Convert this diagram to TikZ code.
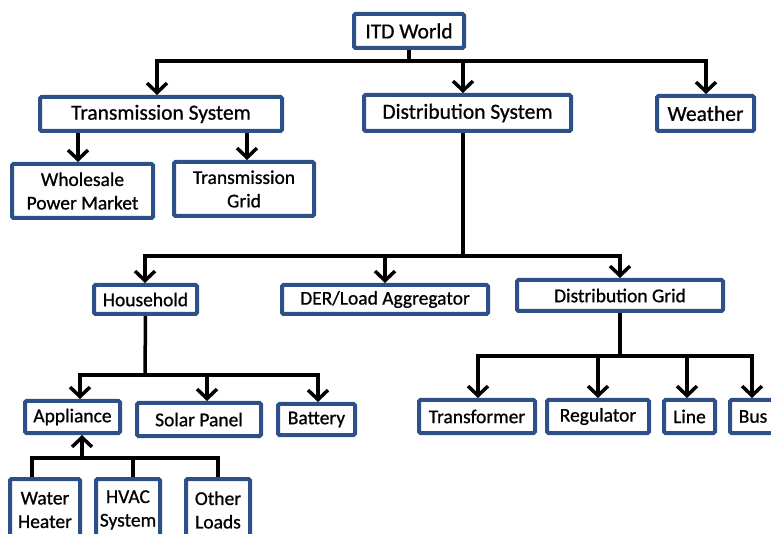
\documentclass[tikz,border=0pt]{standalone}
\usepackage{fontspec}
\setmainfont{Carlito}[UprightFeatures={FakeBold=0.8}]
\usepackage{tikz}
\usetikzlibrary{arrows.meta}
\definecolor{boxblue}{RGB}{44,80,135}

\begin{document}
\begin{tikzpicture}[x=1pt,y=-1pt,
  box/.style={draw=boxblue,line width=4pt,rounded corners=1.5pt,fill=white,inner sep=0pt,align=center,font=\fontsize{19.5}{23.5}\selectfont},
  bigbox/.style={box,font=\fontsize{21.5}{25}\selectfont},
  link/.style={black,line width=3.5pt},
  arr/.style={link,-{Straight Barb[length=9.5pt,width=20pt]}}]
  \useasboundingbox (0,0) rectangle (771,534);
  \clip (0,0) rectangle (771,534);

    %Top level
    \node[bigbox,minimum width=110,minimum height=34] (itd) at (409,31) {ITD World};
    \node[bigbox,minimum width=242,minimum height=34] (tsys) at (161,114) {Transmission System};
    \node[bigbox,minimum width=207,minimum height=36] (dsys) at (467.5,113) {Distribution System};
    \node[bigbox,minimum width=97,minimum height=35] (weather) at (705.5,113.5) {Weather};

    %Transmission side
    \node[box,minimum width=141,minimum height=54] (wpm) at (82.5,191) {Wholesale\\Power Market};
    \node[box,minimum width=140,minimum height=54] (tgrid) at (244,189) {Transmission\\Grid};

    %Distribution side
    \node[box,minimum width=103,minimum height=29] (house) at (145.5,299.5) {Household};
    \node[box,minimum width=206,minimum height=29] (der) at (385,299.5) {DER/Load Aggregator};
    \node[box,minimum width=206,minimum height=31] (dgrid) at (620,295.5) {Distribution Grid};

    %Household
    \node[box,minimum width=95,minimum height=32] (appl) at (72.5,417) {Appliance};
    \node[box,minimum width=124,minimum height=33] (solar) at (199,419.5) {Solar Panel};
    \node[box,minimum width=77,minimum height=31] (batt) at (316.5,419.5) {Battery};
    \node[box,minimum width=70,minimum height=62] (water) at (45,510) {Water\\Heater};
    \node[box,minimum width=64,minimum height=62] (hvac) at (128,510) {HVAC\\System};
    \node[box,minimum width=64,minimum height=62] (other) at (218,510) {Other\\Loads};

    %Grid
    \node[box,minimum width=116,minimum height=33] (trans) at (477,416.5) {Transformer};
    \node[box,minimum width=102,minimum height=33] (reg) at (598,416.5) {Regulator};
    \node[box,minimum width=51,minimum height=33] (line) at (689.5,416.5) {Line};
    \node[box,minimum width=46,minimum height=33] (bus) at (753,416.5) {Bus};

    %Bars
    \coordinate (t0) at (409,61);
    \coordinate (t1) at (157,61);
    \coordinate (t2) at (706,61);
    \coordinate (t3) at (463,61);
    \coordinate (s1) at (78,133);
    \coordinate (s2) at (247,133);
    \coordinate (d0) at (463,256);
    \coordinate (d1) at (145,256);
    \coordinate (d2) at (620,256);
    \coordinate (d3) at (385,256);
    \coordinate (h0) at (145,375);
    \coordinate (h1) at (80,375);
    \coordinate (h2) at (318,375);
    \coordinate (h3) at (207,375);
    \coordinate (a0) at (82,458);
    \coordinate (a1) at (32,458);
    \coordinate (a2) at (218,458);
    \coordinate (a3) at (133,458);
    \coordinate (g0) at (620,356);
    \coordinate (g1) at (478,356);
    \coordinate (g2) at (752,356);
    \coordinate (g3) at (598,356);
    \coordinate (g4) at (687,356);

    \draw[link] (itd.south) -- (t0);
    \draw[arr] (t0) -- (t1) -- (t1 |- tsys.north);
    \draw[arr] (t0) -- (t2) -- (t2 |- weather.north);
    \draw[arr] (t3) -- (t3 |- dsys.north);

    \draw[arr] (s1) -- (s1 |- wpm.north);
    \draw[arr] (s2) -- (s2 |- tgrid.north);

    \draw[link] (d0 |- dsys.south) -- (d0);
    \draw[arr] (d0) -- (d1) -- (d1 |- house.north);
    \draw[arr] (d0) -- (d2) -- (d2 |- dgrid.north);
    \draw[arr] (d3) -- (d3 |- der.north);

    \draw[link] (house.south) -- (h0);
    \draw[arr] (h0) -- (h1) -- (h1 |- appl.north);
    \draw[arr] (h0) -- (h2) -- (h2 |- batt.north);
    \draw[arr] (h3) -- (h3 |- solar.north);

    \draw[link] (a1 |- water.north) -- (a1) -- (a2) -- (a2 |- other.north);
    \draw[link] (a3) -- (a3 |- hvac.north);
    \draw[arr] (a0) -- (a0 |- appl.south);

    \draw[link] (dgrid.south) -- (g0);
    \draw[arr] (g0) -- (g1) -- (g1 |- trans.north);
    \draw[arr] (g0) -- (g2) -- (g2 |- bus.north);
    \draw[arr] (g3) -- (g3 |- reg.north);
    \draw[arr] (g4) -- (g4 |- line.north);

  \end{tikzpicture}
\end{document}
